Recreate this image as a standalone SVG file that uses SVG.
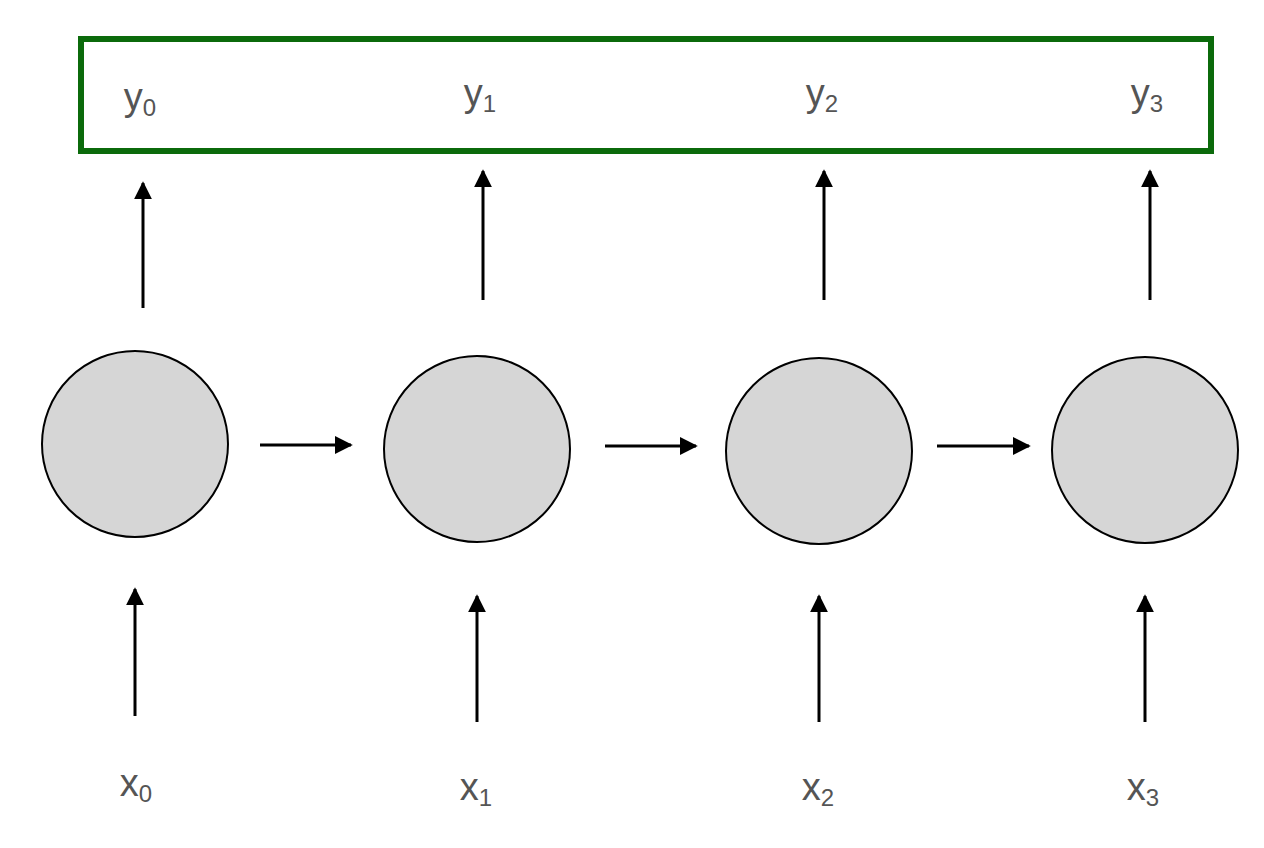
<svg xmlns="http://www.w3.org/2000/svg" width="1264" height="848" viewBox="0 0 1264 848">
<style>
.n{fill:#d6d6d6;stroke:#000;stroke-width:2}
.c{stroke:#000;stroke-width:3;fill:none;marker-end:url(#a)}
.t{font-family:"Liberation Sans",Arial,sans-serif;font-size:38px;fill:#555;text-anchor:middle}
.s{font-size:24px}
</style>
<defs><marker id="a" viewBox="0 0 10 10" refX="9" refY="5" markerWidth="6" markerHeight="6" orient="auto"><path d="M0,0L10,5L0,10z" fill="#000"/></marker></defs>
<rect width="1264" height="848" fill="#fff"/>
<g id="output"><rect x="81" y="39" width="1130" height="112" fill="none" stroke="#0b6a0b" stroke-width="6"/>
<text class="t" x="140" y="110">y<tspan class="s" dy="6">0</tspan></text>
<text class="t" x="480" y="106">y<tspan class="s" dy="6">1</tspan></text>
<text class="t" x="822" y="106">y<tspan class="s" dy="6">2</tspan></text>
<text class="t" x="1147" y="106">y<tspan class="s" dy="6">3</tspan></text></g>
<g id="h0"><circle class="n" cx="135" cy="444" r="93"/></g>
<g id="h1"><circle class="n" cx="477" cy="449" r="93"/></g>
<g id="h2"><circle class="n" cx="819" cy="451" r="93"/></g>
<g id="h3"><circle class="n" cx="1145" cy="450" r="93"/></g>
<g id="x0"><text class="t" x="136" y="796">x<tspan class="s" dy="6">0</tspan></text></g>
<g id="x1"><text class="t" x="476" y="800">x<tspan class="s" dy="6">1</tspan></text></g>
<g id="x2"><text class="t" x="818" y="800">x<tspan class="s" dy="6">2</tspan></text></g>
<g id="x3"><text class="t" x="1143" y="800">x<tspan class="s" dy="6">3</tspan></text></g>
<g id="connectors">
<path class="c" d="M143,308V183"/><path class="c" d="M483,300V171"/><path class="c" d="M824,300V171"/><path class="c" d="M1150,300V171"/>
<path class="c" d="M135,716V589"/><path class="c" d="M477,722V596"/><path class="c" d="M819,722V596"/><path class="c" d="M1145,722V596"/>
<path class="c" d="M260,445H351"/><path class="c" d="M605,446H696"/><path class="c" d="M937,446H1029"/>
</g>
</svg>
